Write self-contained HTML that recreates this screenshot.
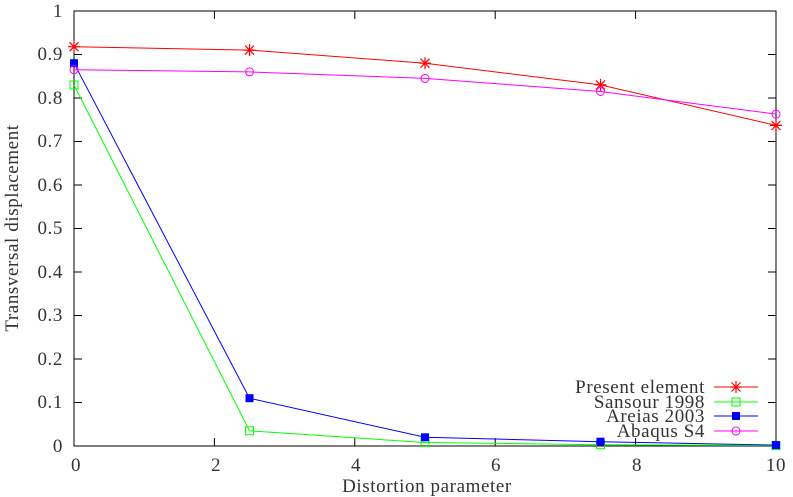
<!DOCTYPE html>
<html><head><style>body{margin:0;background:#fff}svg{display:block}text{font-family:"Liberation Serif",serif;font-size:19px;letter-spacing:0.6px;fill:#333}</style></head>
<body>
<svg width="793" height="497" xmlns="http://www.w3.org/2000/svg">
<defs><path id="st" d="M-6 0h12M0 -6v12M-4.5 -4.5l9 9M-4.5 4.5l9 -9"/></defs>
<g stroke="#000" stroke-width="1">
<rect x="74" y="11" width="702" height="435" fill="none"/>
<path d="M74 402.5h8M776 402.5h-8M74 359h8M776 359h-8M74 315.5h8M776 315.5h-8M74 272h8M776 272h-8M74 228.5h8M776 228.5h-8M74 185h8M776 185h-8M74 141.5h8M776 141.5h-8M74 98h8M776 98h-8M74 54.5h8M776 54.5h-8"/>
<path d="M214.4 446v-8M214.4 11v8M354.8 446v-8M354.8 11v8M495.2 446v-8M495.2 11v8M635.6 446v-8M635.6 11v8"/>
</g>
<g text-anchor="end">
<text x="63" y="452">0</text><text x="63" y="408">0.1</text><text x="63" y="365">0.2</text><text x="63" y="321">0.3</text><text x="63" y="278">0.4</text><text x="63" y="234">0.5</text><text x="63" y="191">0.6</text><text x="63" y="147">0.7</text><text x="63" y="104">0.8</text><text x="63" y="60">0.9</text><text x="63" y="17">1</text>
</g>
<g text-anchor="middle">
<text x="76" y="471">0</text><text x="216" y="471">2</text><text x="356" y="471">4</text><text x="496" y="471">6</text><text x="637" y="471">8</text><text x="776" y="471">10</text>
<text x="427" y="492">Distortion parameter</text>
<text transform="translate(18,228) rotate(-90)">Transversal displacement</text>
</g>
<polyline fill="none" stroke="#f00" points="74,46.7 249.5,50.1 425,63.2 600.5,84.9 776,125.4"/>
<g stroke="#f00" fill="none" stroke-width="1.2">
<use href="#st" x="74" y="46.7"/><use href="#st" x="249.5" y="50.1"/><use href="#st" x="425" y="63.2"/><use href="#st" x="600.5" y="84.9"/><use href="#st" x="776" y="125.4"/>
</g>
<polyline fill="none" stroke="#0f0" points="74,85 249.5,430.8 425,442.5 600.5,444.7 776,445.6"/>
<g stroke="#0f0" fill="none"><rect x="70" y="81" width="8" height="8"/><rect x="245.5" y="426.8" width="8" height="8"/><rect x="421" y="438.5" width="8" height="8"/><rect x="596.5" y="440.7" width="8" height="8"/><rect x="772" y="441.6" width="8" height="8"/></g>
<polyline fill="none" stroke="#00f" points="74,63.2 249.5,398.2 425,437.3 600.5,441.7 776,445.1"/>
<g fill="#00f"><rect x="70" y="59.2" width="8" height="8"/><rect x="245.5" y="394.2" width="8" height="8"/><rect x="421" y="433.3" width="8" height="8"/><rect x="596.5" y="437.7" width="8" height="8"/><rect x="772" y="441.1" width="8" height="8"/></g>
<polyline fill="none" stroke="#f0f" points="74,69.7 249.5,71.9 425,78.4 600.5,91.5 776,114.1"/>
<g stroke="#f0f" fill="none"><circle cx="74" cy="69.7" r="4"/><circle cx="249.5" cy="71.9" r="4"/><circle cx="425" cy="78.4" r="4"/><circle cx="600.5" cy="91.5" r="4"/><circle cx="776" cy="114.1" r="4"/></g>
<g text-anchor="end">
<text x="705" y="393">Present element</text><text x="705" y="408">Sansour 1998</text><text x="705" y="422">Areias 2003</text><text x="705" y="437">Abaqus S4</text>
</g>
<path d="M714 387h44" stroke="#f00"/><use href="#st" x="736" y="387" stroke="#f00" fill="none" stroke-width="1.2"/>
<path d="M714 402h44" stroke="#0f0"/><rect x="732" y="398" width="8" height="8" stroke="#0f0" fill="none"/>
<path d="M714 416h44" stroke="#00f"/><rect x="732" y="412" width="8" height="8" fill="#00f"/>
<path d="M714 431h44" stroke="#f0f"/><circle cx="736" cy="431" r="4" stroke="#f0f" fill="none"/>
</svg>
</body></html>
